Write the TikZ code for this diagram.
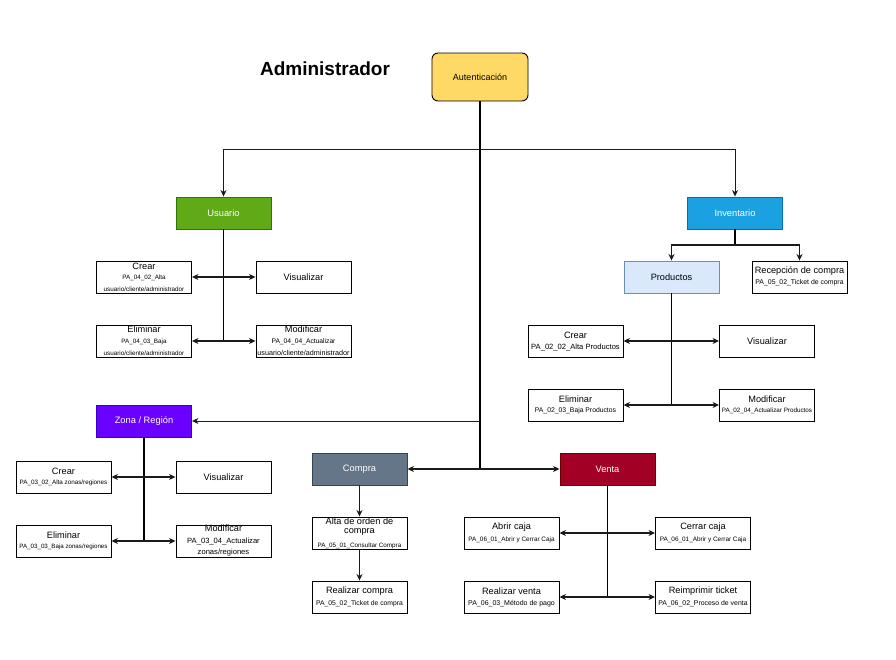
\documentclass[tikz,border=0pt]{standalone}
\usepackage{fontspec}
\setmainfont{Liberation Sans}
\usetikzlibrary{arrows.meta}
\definecolor{authfill}{HTML}{FFD966}
\definecolor{usrfill}{HTML}{60A917}\definecolor{usrdraw}{HTML}{2D7600}
\definecolor{invfill}{HTML}{1BA1E2}\definecolor{invdraw}{HTML}{006EAF}
\definecolor{prodfill}{HTML}{DAE8FC}\definecolor{proddraw}{HTML}{6C8EBF}
\definecolor{zonfill}{HTML}{6A00FF}\definecolor{zondraw}{HTML}{3700CC}
\definecolor{comfill}{HTML}{647687}\definecolor{comdraw}{HTML}{314354}
\definecolor{venfill}{HTML}{A20025}\definecolor{vendraw}{HTML}{6F0000}
\definecolor{linec}{HTML}{1A1A1A}
\tikzset{
  box/.style={draw=black, line width=0.9pt, fill=white, minimum width=95pt, minimum height=32pt, inner sep=0pt},
  cbox/.style={box, font=\fontsize{9.3}{10}\selectfont, text=white},
  mtxt/.style={inner sep=0pt, font=\fontsize{9.2}{10}\selectfont},
  subt/.style={inner sep=0pt, font=\fontsize{#1}{#1}\selectfont},
  arr/.style={draw=linec, line width=0.9pt, -{Stealth[length=6.5pt,width=6pt,inset=2pt]}},
  dbl/.style={draw=linec, line width=1.1pt, {Stealth[length=6.5pt,width=6pt,inset=2pt]}-{Stealth[length=6.5pt,width=6pt,inset=2pt]}},
  vline/.style={draw=black, line width=1.5pt},
}
\begin{document}
\begin{tikzpicture}[x=1pt,y=-1pt]
\useasboundingbox (0,0) rectangle (896,659);

% title and top
\node[inner sep=0pt, font=\fontsize{19}{22}\selectfont\bfseries] (title) at (325,69) {Administrador};
\node[draw=black, line width=0.9pt, fill=authfill, rounded corners=6pt, minimum width=96pt, minimum height=48pt, inner sep=0pt, font=\fontsize{9}{10}\selectfont] (auth) at (480,77) {Autenticación};

% main colored boxes
\node[cbox, fill=usrfill, draw=usrdraw] (usr) at (223.5,213) {Usuario};
\node[cbox, fill=invfill, draw=invdraw] (inv) at (735,213) {Inventario};
\node[cbox, fill=zonfill, draw=zondraw] (zon) at (144,421) {Zona / Región};
\node[cbox, fill=comfill, draw=comdraw] (com) at (359.5,469) {Compra};
\node[cbox, fill=venfill, draw=vendraw] (ven) at (607.5,469) {Venta};

% Usuario children
\node[box] (uc) at (144,277) {};
\node[mtxt] (uc1) at (144,266) {Crear};
\node[subt=6.3] (uc2) at (144,278) {PA\_04\_02\_Alta};
\node[subt=6.3] (uc3) at (144,289) {usuario/cliente/administrador};
\node[box, font=\fontsize{9.2}{10}\selectfont] (uv) at (303.5,277) {Visualizar};
\node[box] (ue) at (144,341) {};
\node[mtxt] (ue1) at (144,329) {Eliminar};
\node[subt=6.3] (ue2) at (144,342) {PA\_04\_03\_Baja};
\node[subt=6.3] (ue3) at (144,353) {usuario/cliente/administrador};
\node[box] (um) at (303.5,341) {};
\node[mtxt] (um1) at (303.5,329) {Modificar};
\node[subt=6.7] (um2) at (303.5,342) {PA\_04\_04\_Actualizar};
\node[subt=7.2] (um3) at (303.5,353) {usuario/cliente/administrador};

% Inventario children
\node[box, fill=prodfill, draw=proddraw, font=\fontsize{9.2}{10}\selectfont] (prod) at (671.5,277) {Productos};
\node[box] (rec) at (799.5,277) {};
\node[mtxt] (rec1) at (799.5,271) {Recepción de compra};
\node[subt=6.9] (rec2) at (799.5,283) {PA\_05\_02\_Ticket de compra};
\node[box] (pc) at (575.5,341) {};
\node[mtxt] (pc1) at (575.5,335) {Crear};
\node[subt=7.6] (pc2) at (575.5,347) {PA\_02\_02\_Alta Productos};
\node[box, font=\fontsize{9.2}{10}\selectfont] (pv) at (767,341) {Visualizar};
\node[box] (pe) at (575.5,405) {};
\node[mtxt] (pe1) at (575.5,399) {Eliminar};
\node[subt=6.8] (pe2) at (575.5,411) {PA\_02\_03\_Baja Productos};
\node[box] (pm) at (767,405) {};
\node[mtxt] (pm1) at (767,399) {Modificar};
\node[subt=6.3] (pm2) at (767,411) {PA\_02\_04\_Actualizar Productos};

% Zona children
\node[box] (zc) at (63.5,477) {};
\node[mtxt] (zc1) at (63.5,471) {Crear};
\node[subt=6.3] (zc2) at (63.5,483) {PA\_03\_02\_Alta zonas/regiones};
\node[box, font=\fontsize{9.2}{10}\selectfont] (zv) at (223.5,477) {Visualizar};
\node[box] (ze) at (63.5,541) {};
\node[mtxt] (ze1) at (63.5,535) {Eliminar};
\node[subt=6.2] (ze2) at (63.5,547) {PA\_03\_03\_Baja zonas/regiones};
\node[box] (zm) at (223.5,541) {};
\node[mtxt] (zm1) at (223.5,528) {Modificar};
\node[subt=7.6] (zm2) at (223.5,541) {PA\_03\_04\_Actualizar};
\node[subt=7.6] (zm3) at (223.5,553) {zonas/regiones};

% Compra children
\node[box] (alta) at (359.5,533) {};
\node[mtxt] (alta1) at (359.5,521) {Alta de orden de};
\node[mtxt] (alta2) at (359.5,532) {compra};
\node[subt=6.3] (alta3) at (359.5,546) {PA\_05\_01\_Consultar Compra};
\node[box] (rc) at (359.5,597) {};
\node[mtxt] (rc1) at (359.5,591) {Realizar compra};
\node[subt=6.8] (rc2) at (359.5,604) {PA\_05\_02\_Ticket de compra};

% Venta children
\node[box] (ab) at (511.5,533) {};
\node[mtxt] (ab1) at (511.5,527) {Abrir caja};
\node[subt=6.4] (ab2) at (511.5,540) {PA\_06\_01\_Abrir y Cerrar Caja};
\node[box] (ce) at (703,533) {};
\node[mtxt] (ce1) at (703,527) {Cerrar caja};
\node[subt=6.4] (ce2) at (703,540) {PA\_06\_01\_Abrir y Cerrar Caja};
\node[box] (rv) at (511.5,597) {};
\node[mtxt] (rv1) at (511.5,591) {Realizar venta};
\node[subt=7] (rv2) at (511.5,604) {PA\_06\_03\_Método de pago};
\node[box] (ri) at (703,597) {};
\node[mtxt] (ri1) at (703,591) {Reimprimir ticket};
\node[subt=6.9] (ri2) at (703,604) {PA\_06\_02\_Proceso de venta};

% junctions
\coordinate (jt) at (480,149);
\coordinate (jc) at (480,469);
\coordinate (jz) at (480,421);
\coordinate (ji) at (735,245);

% top connectors
\draw[vline] (auth.south) -- (jc);
\draw[arr] (jt) -| (usr.north);
\draw[arr] (jt) -| (inv.north);
\draw[arr] (jz) -- (zon.east);
\draw[arr, line width=1.1pt] (jc) -- (com.east);
\draw[arr, line width=1.1pt] (jc) -- (ven.west);

% Usuario
\draw[vline] (usr.south) -- (usr.south |- ue.east);
\draw[dbl] (uc.east) -- (uv.west);
\draw[dbl] (ue.east) -- (um.west);

% Inventario
\draw[vline] (inv.south) -- (ji);
\draw[arr, line width=1.1pt] (ji) -| (prod.north);
\draw[arr, line width=1.1pt] (ji) -| (rec.north);
\draw[vline] (prod.south) -- (prod.south |- pe.east);
\draw[dbl] (pc.east) -- (pv.west);
\draw[dbl] (pe.east) -- (pm.west);

% Zona
\draw[vline] (zon.south) -- (zon.south |- ze.east);
\draw[dbl] (zc.east) -- (zv.west);
\draw[dbl] (ze.east) -- (zm.west);

% Compra
\draw[arr, line width=1.3pt] (com.south) -- (alta.north);
\draw[arr, line width=1.3pt] (alta.south) -- (rc.north);

% Venta
\draw[vline] (ven.south) -- (ven.south |- rv.east);
\draw[dbl] (ab.east) -- (ce.west);
\draw[dbl] (rv.east) -- (ri.west);
\end{tikzpicture}
\end{document}
